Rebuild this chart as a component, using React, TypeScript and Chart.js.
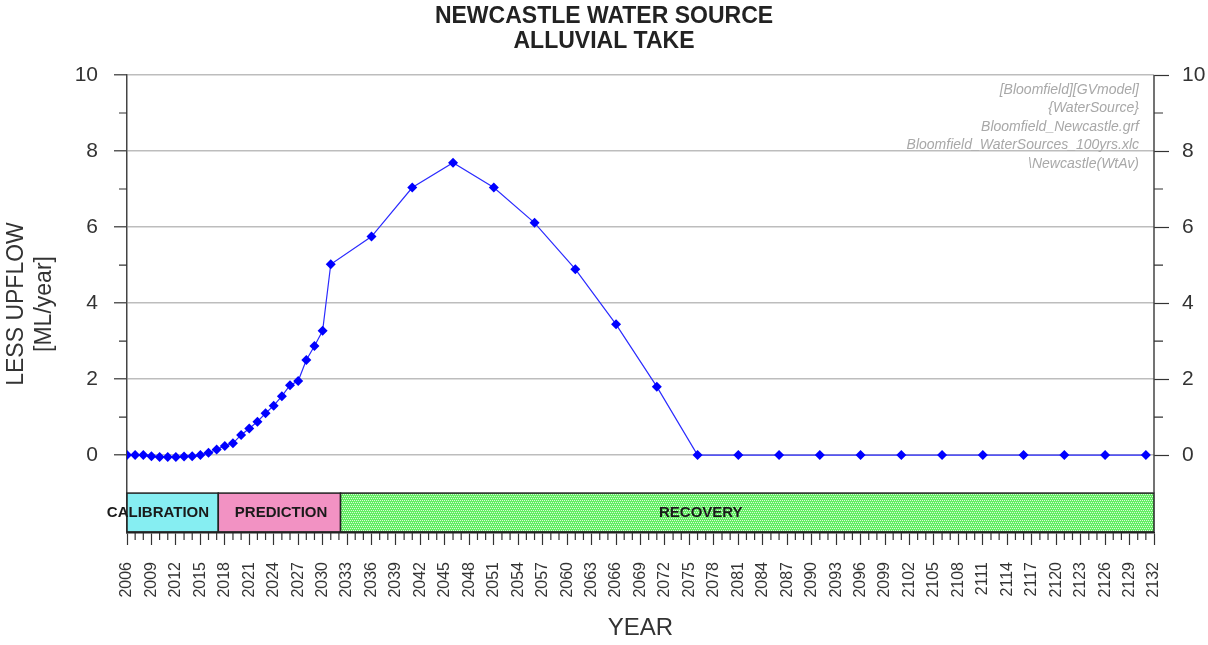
import React, { useEffect, useRef } from 'react';
import { Chart, registerables } from 'chart.js';

Chart.register(...registerables);

// Modelled reduction in upflow (ML/year) by year
const years = [
  2006, 2007, 2008, 2009, 2010, 2011, 2012, 2013, 2014, 2015,
  2016, 2017, 2018, 2019, 2020, 2021, 2022, 2023, 2024, 2025,
  2026, 2027, 2028, 2029, 2030, 2031, 2036, 2041, 2046, 2051,
  2056, 2061, 2066, 2071, 2076, 2081, 2086, 2091, 2096, 2101,
  2106, 2111, 2116, 2121, 2126, 2131,
];
const upflow = [
  0, 0, 0, -0.03, -0.05, -0.05, -0.05, -0.04, -0.03, 0.0,
  0.06, 0.15, 0.24, 0.31, 0.53, 0.7, 0.88, 1.1, 1.3, 1.55,
  1.84, 1.95, 2.5, 2.87, 3.27, 5.02, 5.75, 7.04, 7.69, 7.04,
  6.11, 4.89, 3.44, 1.8, 0, 0, 0, 0, 0, 0,
  0, 0, 0, 0, 0, 0,
];

// Axis ticks
const xTickYears = [
  2006, 2009, 2012, 2015, 2018, 2021, 2024, 2027, 2030, 2033,
  2036, 2039, 2042, 2045, 2048, 2051, 2054, 2057, 2060, 2063,
  2066, 2069, 2072, 2075, 2078, 2081, 2084, 2087, 2090, 2093,
  2096, 2099, 2102, 2105, 2108, 2111, 2114, 2117, 2120, 2123,
  2126, 2129, 2132,
];
const yTickValues = [0, 1, 2, 3, 4, 5, 6, 7, 8, 9, 10];
const yLabelledTicks = [0, 2, 4, 6, 8, 10];

// Model phases shown in the strip beneath the plot
const phaseNames = ['CALIBRATION', 'PREDICTION', 'RECOVERY'];
const phaseStart = [2006, 2017.2, 2032.2];
const phaseEnd = [2017.2, 2032.2, 2132];
const phaseLabelAt = [2009.8, 2024.9, 2076.4];
const phaseColors = ['#86eef2', '#f292c3', '#63ee63'];

// Model file references
const noteLines = [
  '[Bloomfield][GVmodel]',
  '{WaterSource}',
  'Bloomfield_Newcastle.grf',
  'Bloomfield_WaterSources_100yrs.xlc',
  '\\Newcastle(WtAv)',
];

const FONT = "'Liberation Sans', Arial, sans-serif";
const BAND_TOP = -1.0;
const BAND_BOTTOM = -2.02;

function hatch(ctx: CanvasRenderingContext2D, base: string) {
  const tile = document.createElement('canvas');
  tile.width = 4;
  tile.height = 4;
  const t = tile.getContext('2d')!;
  t.fillStyle = base;
  t.fillRect(0, 0, 4, 4);
  t.fillStyle = 'rgba(255,255,255,0.75)';
  t.fillRect(0, 0, 1, 1);
  t.fillRect(2, 0, 1, 1);
  t.fillRect(1, 2, 1, 1);
  t.fillRect(3, 2, 1, 1);
  return ctx.createPattern(tile, 'repeat')!;
}

const decorPlugin = {
  id: 'decor',
  afterDraw(chart: any) {
    const { ctx, chartArea: a, scales } = chart;
    const xs = scales.x;
    const ys = scales.y;
    ctx.save();

    // phase strip
    const yTop = ys.getPixelForValue(BAND_TOP);
    const yBot = ys.getPixelForValue(BAND_BOTTOM);
    phaseNames.forEach((name, i) => {
      const x0 = xs.getPixelForValue(phaseStart[i]);
      const x1 = xs.getPixelForValue(phaseEnd[i]);
      ctx.fillStyle = i === 2 ? hatch(ctx, phaseColors[i]) : phaseColors[i];
      ctx.fillRect(x0, yTop, x1 - x0, yBot - yTop);
      ctx.strokeStyle = '#222';
      ctx.lineWidth = 1.5;
      ctx.strokeRect(x0, yTop, x1 - x0, yBot - yTop);
    });
    ctx.font = `bold 15px ${FONT}`;
    ctx.textAlign = 'center';
    ctx.textBaseline = 'middle';
    ctx.fillStyle = '#1a1a1a';
    phaseNames.forEach((name, i) => {
      ctx.fillText(name, xs.getPixelForValue(phaseLabelAt[i]), (yTop + yBot) / 2);
    });

    // right axis line stops at the phase strip
    ctx.strokeStyle = '#444';
    ctx.lineWidth = 1.5;
    ctx.beginPath();
    ctx.moveTo(a.right, ys.getPixelForValue(10));
    ctx.lineTo(a.right, yTop);
    ctx.stroke();

    // minor ticks
    ctx.strokeStyle = '#333';
    ctx.lineWidth = 1.2;
    ctx.beginPath();
    for (let v = 1; v < 10; v += 2) {
      const py = ys.getPixelForValue(v);
      ctx.moveTo(a.left - 8, py);
      ctx.lineTo(a.left, py);
      ctx.moveTo(a.right, py);
      ctx.lineTo(a.right + 9, py);
    }
    for (let yr = 2006; yr <= 2132; yr++) {
      if ((yr - 2006) % 3 === 0) continue;
      const px = xs.getPixelForValue(yr);
      ctx.moveTo(px, a.bottom);
      ctx.lineTo(px, a.bottom + 7);
    }
    ctx.stroke();

    // file reference notes
    ctx.font = `italic 14px ${FONT}`;
    ctx.textAlign = 'right';
    ctx.textBaseline = 'middle';
    ctx.fillStyle = '#a8a8a8';
    noteLines.forEach((line, i) => {
      ctx.fillText(line, 1139, 90 + i * 18.5);
    });

    ctx.restore();
  },
};

export default function App() {
  const ref = useRef<HTMLCanvasElement>(null);

  useEffect(() => {
    const canvas = ref.current;
    if (!canvas) return;
    const points = years.map((yr, i) => ({ x: yr, y: upflow[i] }));

    const chart = new Chart(canvas, {
      type: 'line',
      data: {
        datasets: [
          {
            data: points,
            borderColor: '#2b2bff',
            borderWidth: 1.2,
            backgroundColor: '#0000ff',
            pointStyle: 'rectRot',
            pointRadius: 5,
            pointBorderWidth: 0,
            pointBackgroundColor: '#0000ff',
            tension: 0,
          },
        ],
      },
      plugins: [decorPlugin],
      options: {
        responsive: false,
        animation: false,
        layout: { padding: 0 },
        plugins: {
          legend: { display: false },
          tooltip: { enabled: false },
          title: {
            display: true,
            text: ['NEWCASTLE WATER SOURCE', 'ALLUVIAL TAKE'],
            color: '#222',
            font: { family: FONT, size: 23, weight: 'bold', lineHeight: 1.1 },
            padding: { top: 4, bottom: 20.4 },
          },
        },
        scales: {
          x: {
            type: 'linear',
            min: 2006,
            max: 2132,
            afterBuildTicks: (s: any) => {
              s.ticks = xTickYears.map((v) => ({ value: v }));
            },
            afterFit: (s: any) => {
              s.height = 112;
            },
            ticks: {
              autoSkip: false,
              minRotation: 90,
              maxRotation: 90,
              padding: 17,
              color: '#333',
              font: { family: FONT, size: 16 },
              callback: (v: any) => String(v),
            },
            grid: {
              drawOnChartArea: false,
              tickLength: 12,
              tickColor: '#333',
              tickWidth: 1.2,
            },
            border: { color: '#222', width: 1.5 },
            title: {
              display: true,
              text: 'YEAR',
              color: '#333',
              font: { family: FONT, size: 24, lineHeight: 1.2 },
              padding: { top: 0, bottom: 2.6 },
            },
          },
          y: {
            type: 'linear',
            position: 'left',
            min: -2.05,
            max: 10,
            afterBuildTicks: (s: any) => {
              s.ticks = yTickValues.map((v) => ({ value: v }));
            },
            afterFit: (s: any) => {
              s.width = 127;
            },
            ticks: {
              padding: 16,
              color: '#333',
              font: { family: FONT, size: 21 },
              callback: (v: any) => (yLabelledTicks.includes(v) ? String(v) : ''),
            },
            grid: {
              color: (c: any) => (yLabelledTicks.includes(c.tick?.value) ? '#bdbdbd' : 'rgba(0,0,0,0)'),
              lineWidth: 1.6,
              tickLength: 13,
              tickColor: (c: any) => (yLabelledTicks.includes(c.tick?.value) ? '#333' : 'rgba(0,0,0,0)'),
              tickWidth: 1.2,
            },
            border: { color: '#444', width: 1.5 },
            title: {
              display: true,
              text: ['LESS UPFLOW', '[ML/year]'],
              color: '#333',
              font: { family: FONT, size: 23, lineHeight: 1.2 },
              padding: { top: 3, bottom: 0 },
            },
          },
          yRight: {
            type: 'linear',
            position: 'right',
            min: -2.05,
            max: 10,
            afterBuildTicks: (s: any) => {
              s.ticks = yTickValues.map((v) => ({ value: v }));
            },
            afterFit: (s: any) => {
              s.width = 54;
            },
            ticks: {
              padding: 13,
              color: '#333',
              font: { family: FONT, size: 21 },
              callback: (v: any) => (yLabelledTicks.includes(v) ? String(v) : ''),
            },
            grid: {
              drawOnChartArea: false,
              tickLength: 15,
              tickColor: (c: any) => (yLabelledTicks.includes(c.tick?.value) ? '#333' : 'rgba(0,0,0,0)'),
              tickWidth: 1.2,
            },
            border: { display: false },
          },
        },
      },
    } as any);

    return () => chart.destroy();
  }, []);

  return (
    <div style={{ position: 'fixed', left: 0, top: 0, width: 1208, height: 645, background: '#fff' }}>
      <canvas ref={ref} width={1208} height={645} />
    </div>
  );
}
